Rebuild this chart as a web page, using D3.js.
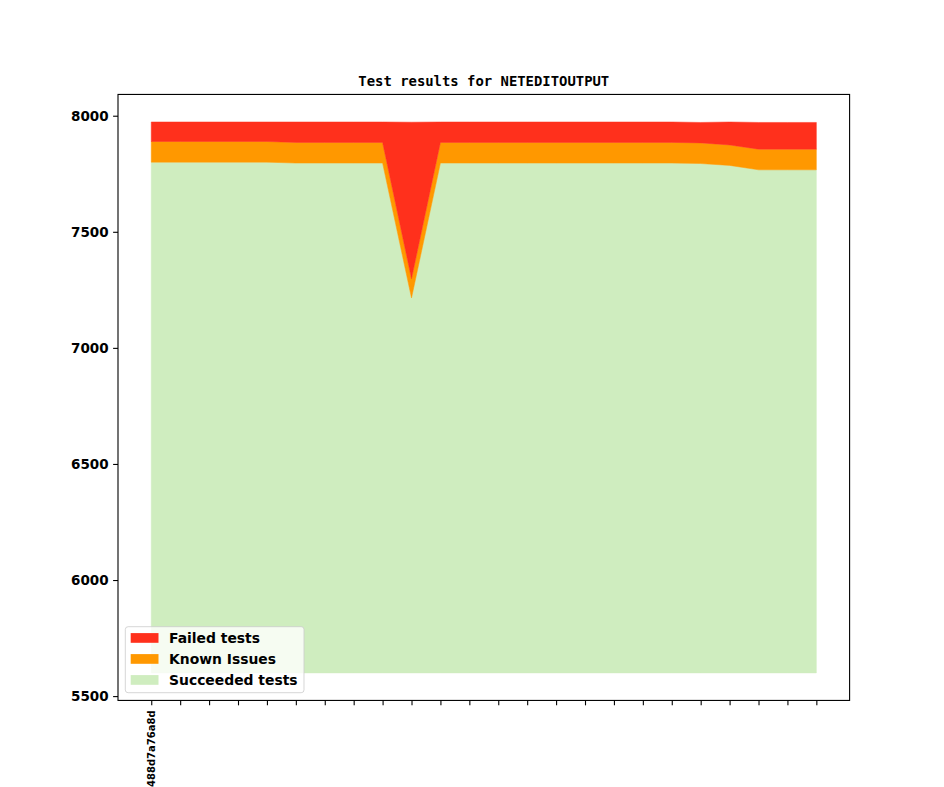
<!DOCTYPE html>
<html>
<head>
<meta charset="utf-8">
<script src="https://cdn.jsdelivr.net/npm/d3@7"></script>
<style>
  html, body { margin: 0; padding: 0; background: #fff; }
  svg { display: block; }
</style>
</head>
<body>
<svg id="chart" width="944" height="787"></svg>
<script>
// ---- data ----
const xLabels = ["488d7a76a8d", "", "", "", "", "", "", "", "", "", "", "", "", "", "", "", "", "", "", "", "", "", "", ""];
const baseline = 5600;
const succeeded = [7800, 7800, 7800, 7800, 7800, 7796, 7796, 7796, 7796, 7215, 7796, 7796, 7796, 7796, 7796, 7796, 7796, 7796, 7796, 7794, 7786, 7767, 7767, 7767];
const knownIssues = [89, 89, 89, 89, 89, 89, 89, 89, 89, 83, 89, 89, 89, 89, 89, 89, 89, 89, 89, 89, 88, 89, 89, 89];
const failed = [84, 84, 84, 84, 84, 88, 88, 88, 88, 674, 88, 88, 88, 88, 88, 88, 88, 88, 88, 88, 99, 115, 115, 115];
const yTicks = [5500, 6000, 6500, 7000, 7500, 8000];
const seriesNames = ["Succeeded tests", "Known Issues", "Failed tests"];
const seriesColors = ["#cfedbf", "#ff9800", "#ff301c"];
const title = "Test results for NETEDITOUTPUT";

(function () {
// ---- layout ----
const W = 944, H = 787;
const pLeft = 0.125 * W, pRight = 0.9 * W, pTop = 0.12 * H, pBottom = 0.89 * H;
const svg = d3.select("#chart");

const n = xLabels.length;
const layers = [succeeded, knownIssues, failed];
const stacked = [];
let lower = succeeded.map(() => baseline);
layers.forEach((vals, k) => {
  const upper = k === 0 ? vals.slice() : vals.map((v, i) => lower[i] + v);
  stacked.push(d3.range(n).map(i => ({ i, y0: lower[i], y1: upper[i] })));
  lower = upper;
});
const yMin = baseline, yMax = d3.max(lower);
const yPad = (yMax - yMin) * 0.05;
const xPad = (n - 1) * 0.05;

const x = d3.scaleLinear().domain([-xPad, n - 1 + xPad]).range([pLeft, pRight]);
const y = d3.scaleLinear().domain([yMin - yPad, yMax + yPad]).range([pBottom, pTop]);

const area = d3.area()
  .x(d => x(d.i))
  .y0(d => y(d.y0))
  .y1(d => y(d.y1));

const g = svg.append("g");
stacked.forEach((s, k) => {
  g.append("path")
    .attr("d", area(s))
    .attr("fill", seriesColors[k])
    .attr("stroke", seriesColors[k])
    .attr("stroke-width", 0.5);
});

// spines
svg.append("rect")
  .attr("x", pLeft).attr("y", pTop)
  .attr("width", pRight - pLeft).attr("height", pBottom - pTop)
  .attr("fill", "none").attr("stroke", "#000").attr("stroke-width", 1.1);

// y axis
const yAxis = d3.axisLeft(y).tickValues(yTicks).tickSize(4.9).tickPadding(4.5).tickFormat(d3.format("d"));
const ya = svg.append("g").attr("transform", `translate(${pLeft},0)`).call(yAxis);
ya.select(".domain").remove();
ya.selectAll("line").attr("stroke", "#000").attr("stroke-width", 1.1);
ya.selectAll("text")
  .attr("font-family", "DejaVu Sans, sans-serif")
  .attr("font-weight", "bold")
  .attr("font-size", "13.5px")
  .attr("fill", "#000");

// x axis
const xAxis = d3.axisBottom(x).tickValues(d3.range(n)).tickSize(4.9).tickPadding(0).tickFormat(i => xLabels[i]);
const xa = svg.append("g").attr("transform", `translate(0,${pBottom})`).call(xAxis);
xa.select(".domain").remove();
xa.selectAll("line").attr("stroke", "#000").attr("stroke-width", 1.1);
xa.selectAll("text")
  .attr("font-family", "DejaVu Sans, sans-serif")
  .attr("font-weight", "bold")
  .attr("font-size", "10px")
  .attr("fill", "#000")
  .attr("text-anchor", "end")
  .attr("dy", null)
  .attr("transform", "translate(0,10) rotate(-90)")
  .attr("x", 0).attr("y", 0)
  .attr("dominant-baseline", "central");

// title
svg.append("text")
  .attr("x", (pLeft + pRight) / 2)
  .attr("y", pTop - 8.3)
  .attr("text-anchor", "middle")
  .attr("font-family", "DejaVu Sans Mono, monospace")
  .attr("font-weight", "bold")
  .attr("font-size", "13.9px")
  .text(title);

// legend
const lg = svg.append("g");
const lx = 125.3, ly = 626.7, lw = 178.7, lh = 66;
lg.append("rect")
  .attr("x", lx).attr("y", ly).attr("width", lw).attr("height", lh)
  .attr("rx", 2.8).attr("ry", 2.8)
  .attr("fill", "rgba(255,255,255,0.8)")
  .attr("stroke", "rgba(204,204,204,0.8)")
  .attr("stroke-width", 1);
const legendOrder = [2, 1, 0];
legendOrder.forEach((k, r) => {
  const cy = 638 + r * 21;
  lg.append("rect")
    .attr("x", 130.7).attr("y", cy - 4.9)
    .attr("width", 27.8).attr("height", 9.7)
    .attr("fill", seriesColors[k]);
  lg.append("text")
    .attr("x", 169).attr("y", cy)
    .attr("dominant-baseline", "central")
    .attr("font-family", "DejaVu Sans, sans-serif")
    .attr("font-weight", "bold")
    .attr("font-size", "13.9px")
    .attr("fill", "#000")
    .text(seriesNames[k]);
});
})();
</script>
</body>
</html>
